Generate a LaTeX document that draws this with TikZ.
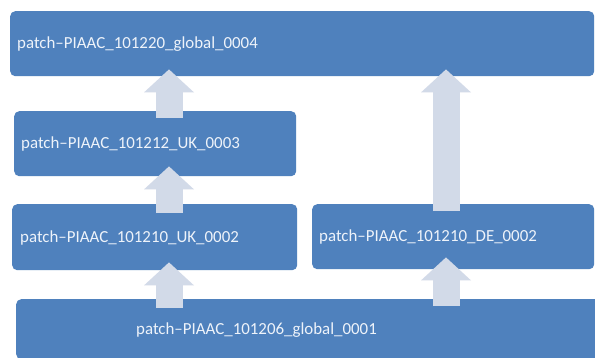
\documentclass[tikz,border=0pt]{standalone}
\usepackage{fontspec}
\setmainfont{Carlito}
\usetikzlibrary{calc,arrows.meta}
\definecolor{boxblue}{RGB}{79,129,189}
\definecolor{arrowc}{RGB}{210,218,232}
\definecolor{txtc}{RGB}{238,243,250}
\tikzset{
  box/.style={fill=boxblue, rounded corners=5pt, inner sep=0pt, anchor=north west},
  lbl/.style={text=txtc, font=\fontsize{16.9pt}{19pt}\selectfont, inner sep=0pt, anchor=base west},
  fat/.style={draw=arrowc, line width=27pt, -{Triangle[width=50pt,length=23pt,line width=0pt]}},
}
\begin{document}
\begin{tikzpicture}[x=1pt,y=1pt]
\useasboundingbox (0,0) rectangle (595,357);
\clip (0,0) rectangle (595,357);
\fill[white] (0,0) rectangle (595,357);
% boxes
\node[box, minimum width=584pt, minimum height=65pt] (b1) at (10,346) {};
\node[box, minimum width=282pt, minimum height=65pt] (b2) at (14,246) {};
\node[box, minimum width=285pt, minimum height=66pt] (b3) at (12,153) {};
\node[box, minimum width=282pt, minimum height=65pt] (b4) at (312,153) {};
\node[box, minimum width=584pt, minimum height=60pt] (b5) at (16,58) {};
% labels
\node[lbl] (t1) at ($(b1.west)+(7,-5)$) {patch–PIAAC\_101220\_global\_0004};
\node[lbl] (t2) at ($(b2.west)+(7,-5)$) {patch–PIAAC\_101212\_UK\_0003};
\node[lbl] (t3) at ($(b3.west)+(8,-5)$) {patch–PIAAC\_101210\_UK\_0002};
\node[lbl] (t4) at ($(b4.west)+(7,-5)$) {patch–PIAAC\_101210\_DE\_0002};
\node[lbl] (t5) at ($(b5.west)+(120,-5)$) {patch–PIAAC\_101206\_global\_0001};
% arrow axes
\coordinate (xl) at (169,0);
\coordinate (xr) at (446,0);
% arrows
\draw[fat] ($(b2.north -| xl)+(0,-7)$) -- ($(b1.south -| xl)+(0,7)$);
\draw[fat] ($(b3.north -| xl)+(0,-9)$) -- ($(b2.south -| xl)+(0,10)$);
\draw[fat] ($(b5.north -| xl)+(0,-9)$) -- ($(b3.south -| xl)+(0,8)$);
\draw[fat] ($(b4.north -| xr)+(0,-7)$) -- ($(b1.south -| xr)+(0,7)$);
\draw[fat] ($(b5.north -| xr)+(0,-7)$) -- ($(b4.south -| xr)+(0,12)$);
\end{tikzpicture}
\end{document}
